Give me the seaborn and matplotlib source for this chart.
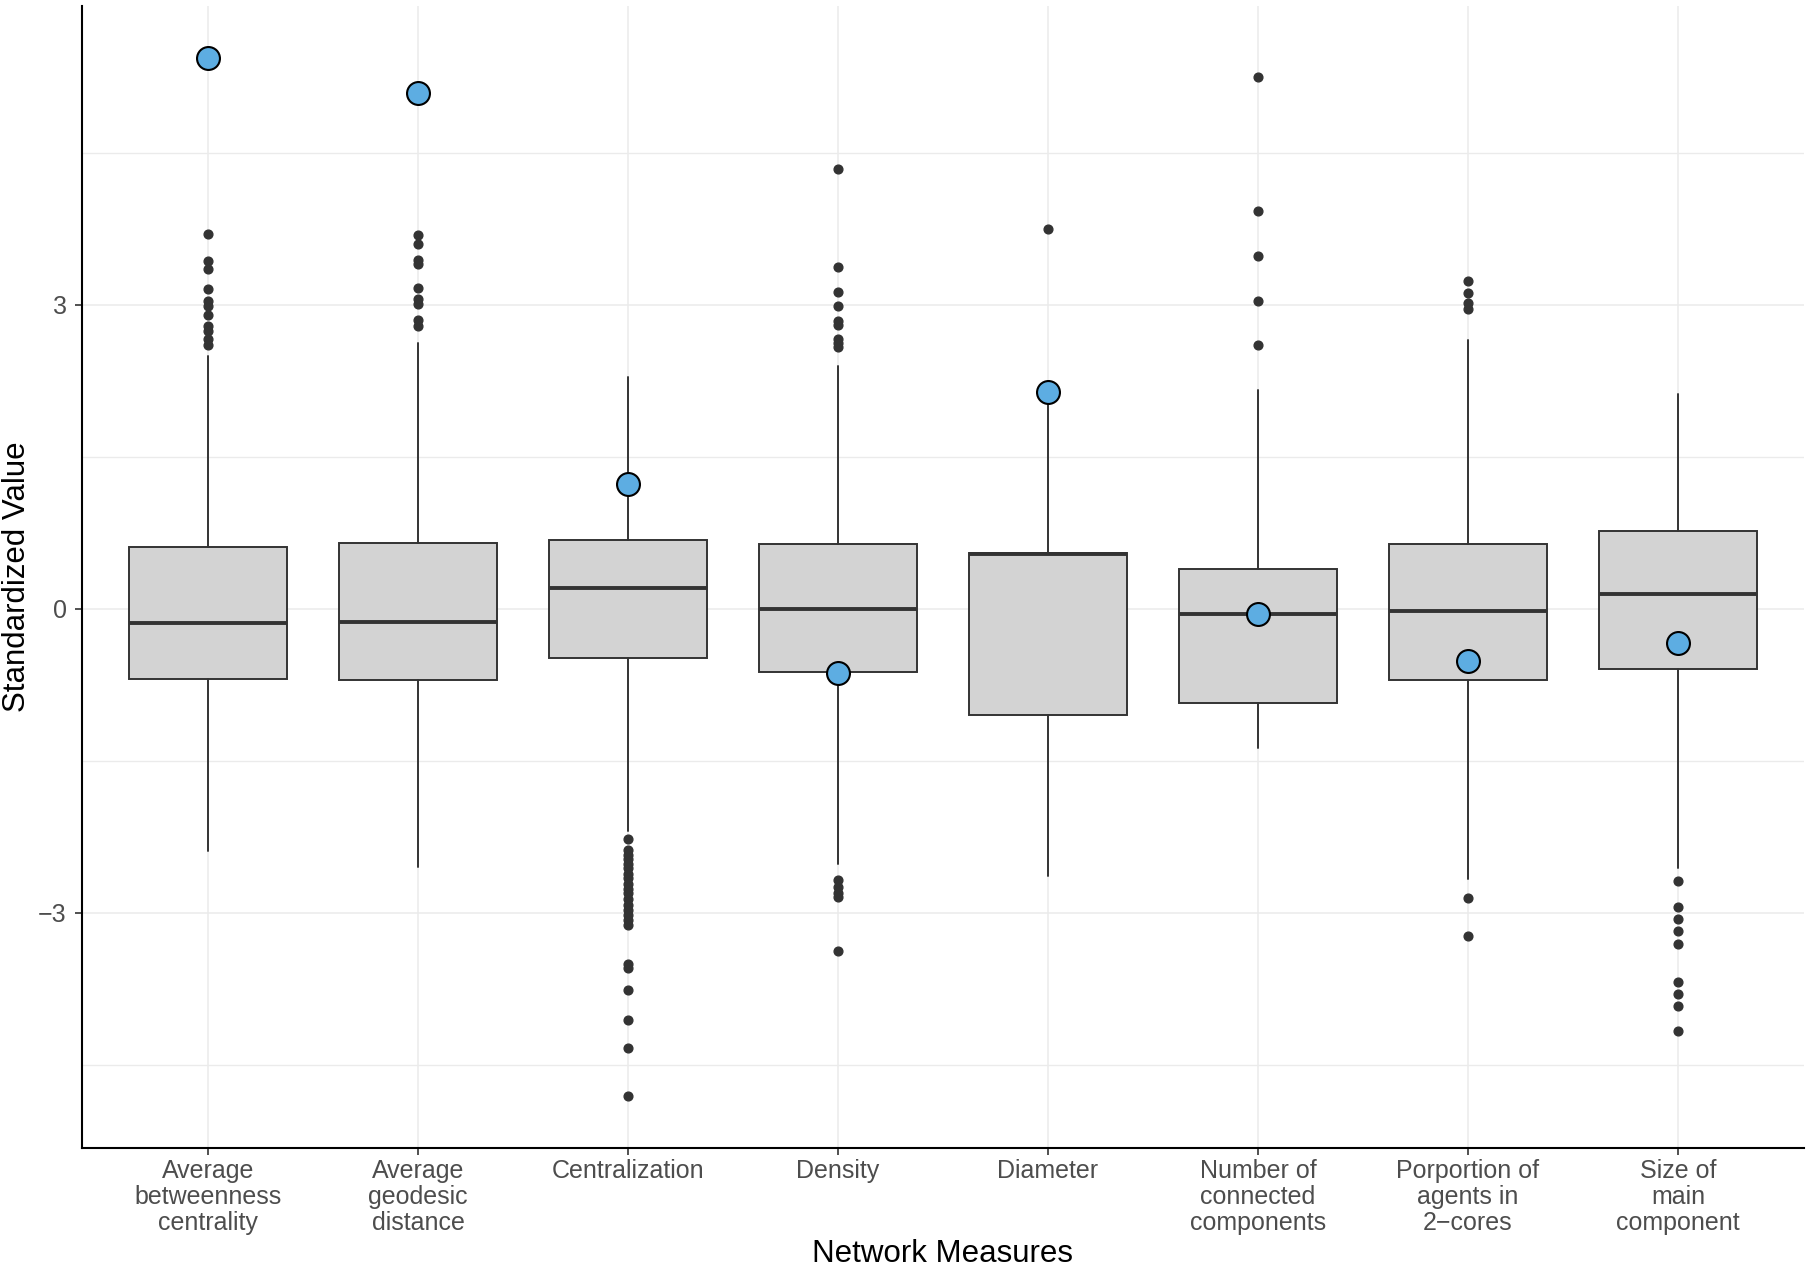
import matplotlib
matplotlib.use("Agg")
import matplotlib.pyplot as plt
import seaborn as sns
import pandas as pd
import numpy as np

categories = ["Average\nbetweenness\ncentrality", "Average\ngeodesic\ndistance",
              "Centralization", "Density", "Diameter",
              "Number of\nconnected\ncomponents", "Porportion of\nagents in\n2\u2212cores",
              "Size of\nmain\ncomponent"]

q1 = [-0.69, -0.70, -0.48, -0.62, -1.05, -0.93, -0.70, -0.59]
med = [-0.135, -0.13, 0.21, 0.00, 0.54, -0.05, -0.02, 0.15]
q3 = [0.61, 0.65, 0.68, 0.64, 0.55, 0.39, 0.64, 0.77]
whislo = [-2.39, -2.55, -2.19, -2.52, -2.64, -1.37, -2.67, -2.56]
whishi = [2.50, 2.62, 2.29, 2.40, 2.12, 2.16, 2.65, 2.12]

fliers_avg_betweenness = [3.70, 3.43, 3.35, 3.16, 3.04, 2.99, 2.90, 2.79, 2.74, 2.66, 2.60]
fliers_avg_geodesic = [3.69, 3.60, 3.44, 3.40, 3.17, 3.06, 3.01, 2.85, 2.79]
fliers_centralization = [-2.27, -2.38, -2.43, -2.47, -2.52, -2.56, -2.62, -2.66, -2.71,
                         -2.76, -2.80, -2.86, -2.92, -2.97, -3.02, -3.07, -3.12,
                         -3.50, -3.54, -3.76, -4.06, -4.33, -4.81]
fliers_density = [4.34, 3.37, 3.13, 2.99, 2.84, 2.80, 2.66, 2.62, 2.58,
                  -2.68, -2.74, -2.80, -2.84, -3.38]
fliers_diameter = [3.75]
fliers_components = [5.25, 3.93, 3.48, 3.04, 2.60]
fliers_two_cores = [3.24, 3.12, 3.02, 2.96, -2.85, -3.23]
fliers_main_component = [-2.69, -2.94, -3.06, -3.18, -3.31, -3.68, -3.80, -3.92, -4.17]

observed = [5.44, 5.09, 1.23, -0.63, 2.14, -0.05, -0.51, -0.34]

fliers = [fliers_avg_betweenness, fliers_avg_geodesic, fliers_centralization,
          fliers_density, fliers_diameter, fliers_components, fliers_two_cores,
          fliers_main_component]

sns.set_theme(style="white")
plt.rcParams["font.family"] = ["Liberation Sans", "DejaVu Sans"]

fig = plt.figure(figsize=(18.13, 12.74), dpi=100)
ax = fig.add_axes([82 / 1813, 1 - 1148 / 1274, (1804 - 82) / 1813, (1148 - 6) / 1274])

stats = []
for i, c in enumerate(categories):
    stats.append(dict(label=c, q1=q1[i], med=med[i], q3=q3[i],
                      whislo=whislo[i], whishi=whishi[i], fliers=fliers[i]))

edge = "#333333"
ax.bxp(stats, positions=np.arange(len(categories)), widths=0.75, patch_artist=True,
       showcaps=False, manage_ticks=False,
       boxprops=dict(facecolor="#D3D3D3", edgecolor=edge, linewidth=1.4),
       medianprops=dict(color=edge, linewidth=2.8, solid_capstyle="butt"),
       whiskerprops=dict(color=edge, linewidth=1.4),
       flierprops=dict(marker="o", markerfacecolor=edge, markeredgecolor=edge,
                       markersize=6.3, linestyle="none"),
       zorder=2)

obs_df = pd.DataFrame({"measure": categories, "value": observed})
sns.stripplot(data=obs_df, x="measure", y="value", order=categories, jitter=False,
              size=16.5, color="#5DADE2", edgecolor="black", linewidth=1.5,
              ax=ax, zorder=5)

ax.set_xlim(-0.6, len(categories) - 0.4)
ax.set_ylim(-5.32, 5.95)
ax.set_xticks(np.arange(len(categories)))
ax.set_xticklabels(categories, fontsize=18, color="#4D4D4D", linespacing=1.1)
ax.set_yticks([-3, 0, 3])
ax.set_yticklabels(["\u22123", "0", "3"], fontsize=18, color="#4D4D4D")
ax.set_yticks([-4.5, -1.5, 1.5, 4.5], minor=True)

ax.grid(True, which="major", axis="both", color="#EBEBEB", linewidth=1.1, zorder=0)
ax.grid(True, which="minor", axis="y", color="#EBEBEB", linewidth=1.0, zorder=0)
ax.set_axisbelow(True)

for s in ["top", "right"]:
    ax.spines[s].set_visible(False)
for s in ["left", "bottom"]:
    ax.spines[s].set_color("black")
    ax.spines[s].set_linewidth(1.5)

ax.tick_params(axis="both", which="major", length=5, width=1.2, color="#333333",
               bottom=True, left=True)
ax.tick_params(axis="x", pad=3)
ax.tick_params(axis="y", pad=6)
ax.tick_params(which="minor", length=0)

ax.set_xlabel("Network Measures", fontsize=22.5, color="black")
ax.set_ylabel("Standardized Value", fontsize=22.5, color="black")
ax.xaxis.set_label_coords(0.5, -0.080)
ax.yaxis.set_label_coords(-0.029, 0.5)

fig.savefig("out.png", dpi=100)
